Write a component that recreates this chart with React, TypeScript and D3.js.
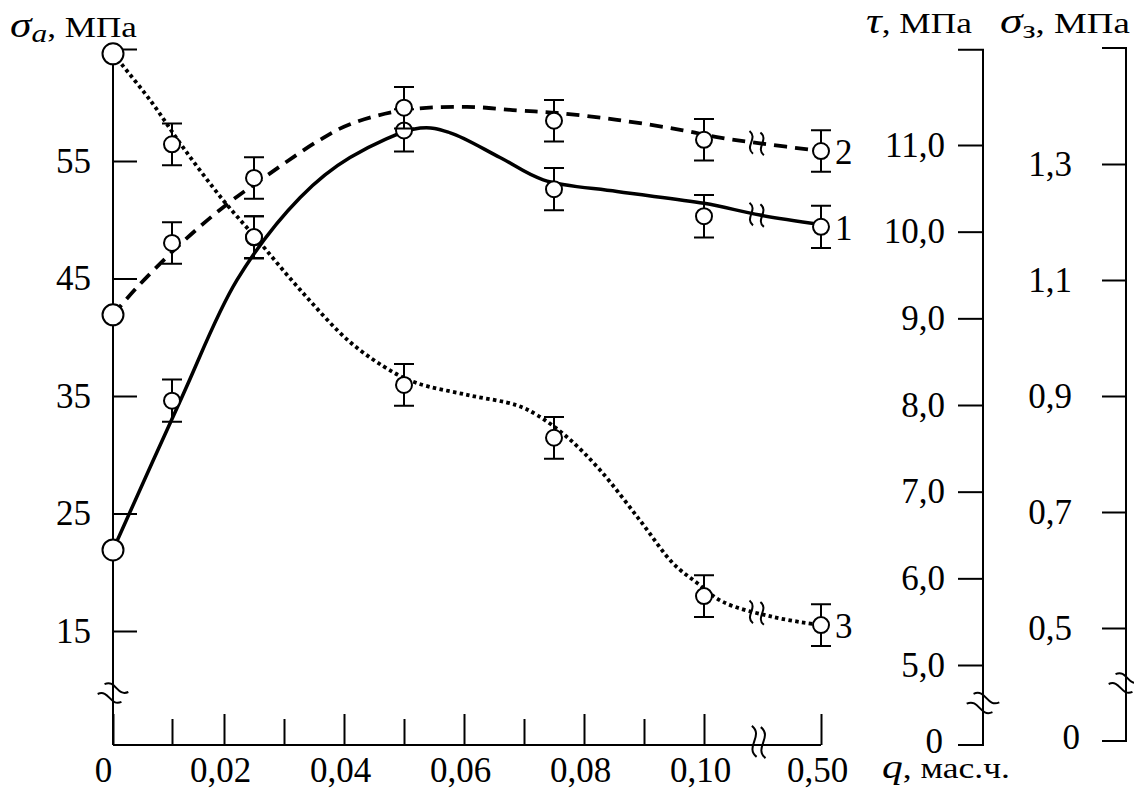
import React, { useEffect, useRef } from 'react';
import * as d3 from 'd3';

// q, mass parts — measured points
const qValues = [0, 0.01, 0.025, 0.05, 0.075, 0.10, 0.50];

// curve 1: sigma_a, MPa (left axis)
const sigmaA = [21.9, 34.6, 48.5, 57.6, 52.6, 50.3, 49.4];
const sigmaAErr = [0, 1.8, 1.8, 1.8, 1.8, 1.8, 1.8];

// curve 2: tau, MPa
const tau = [9.04, 9.87, 10.62, 11.43, 11.28, 11.06, 10.93];
const tauErr = [0, 0.24, 0.24, 0.24, 0.24, 0.24, 0.24];

// curve 3: sigma_z, MPa
const sigmaZ = [1.49, 1.334, 1.174, 0.919, 0.828, 0.555, 0.505];
const sigmaZErr = [0, 0.036, 0.036, 0.036, 0.036, 0.036, 0.036];

// fitted (smoothed) curves, [q, value]
const sigmaAFit: [number, number][] = [
  [0, 21.9], [0.0119, 34.9], [0.0222, 44.9], [0.0327, 51.9], [0.041, 55.3],
  [0.0527, 57.8], [0.0577, 57.4], [0.066, 55.3], [0.0732, 53.4], [0.0855, 52.4],
  [0.10, 51.4], [0.2915, 50.4], [0.5, 49.6]];
const tauFit: [number, number][] = [
  [0, 9.04], [0.0041, 9.36], [0.0115, 9.85], [0.0198, 10.28], [0.0272, 10.65],
  [0.036, 11.06], [0.041, 11.24], [0.0498, 11.40], [0.0605, 11.44], [0.0688, 11.40],
  [0.0755, 11.37], [0.0855, 11.29], [0.0965, 11.17], [0.1444, 11.09], [0.2915, 11.02],
  [0.5, 10.93]];
const sigmaZFit: [number, number][] = [
  [0, 1.49], [0.0063, 1.41], [0.0121, 1.329], [0.0198, 1.238], [0.0252, 1.174],
  [0.0327, 1.083], [0.041, 0.993], [0.0482, 0.941], [0.0522, 0.922], [0.0605, 0.902],
  [0.0688, 0.884], [0.0722, 0.867], [0.0772, 0.829], [0.0827, 0.772], [0.0893, 0.686],
  [0.0948, 0.612], [0.0988, 0.578], [0.165, 0.545], [0.336, 0.519], [0.5, 0.505]];

// ticks
const qMajorTicks = [0, 0.02, 0.04, 0.06, 0.08, 0.10, 0.50];
const qMinorTicks = [0.01, 0.03, 0.05, 0.07, 0.09];
const sigmaATicks = [15, 25, 35, 45, 55];
const tauTicks = [5, 6, 7, 8, 9, 10, 11];
const sigmaZTicks = [0.5, 0.7, 0.9, 1.1, 1.3];
const qBreak = 0.287;

const FONT = '"Liberation Serif", "Times New Roman", serif';

function valueAt(nodes: [number, number][], q: number) {
  for (let i = 0; i < nodes.length - 1; i++) {
    const [q0, v0] = nodes[i];
    const [q1, v1] = nodes[i + 1];
    if (q >= q0 && q <= q1) return v0 + (v1 - v0) * (q - q0) / (q1 - q0);
  }
  return nodes[nodes.length - 1][1];
}

function comma(f: (n: number) => string) {
  return (d: any) => (d === 0 ? '0' : f(d).replace('.', ','));
}

export default function App() {
  const ref = useRef<SVGSVGElement>(null);

  useEffect(() => {
    const svg = d3.select(ref.current);
    svg.selectAll('*').remove();

    const x = d3.scaleLinear().domain([0, 0.01, 0.02, 0.10, 0.50]).range([113, 172, 224, 704, 821]);
    const yA = d3.scaleLinear().domain([15, 55]).range([631, 161]);
    const yT = d3.scaleLinear().domain([5, 11]).range([665, 145]);
    const yZ = d3.scaleLinear().domain([0.5, 1.3]).range([628, 164]);

    const x0 = x(0), baseY = 745;
    const tauX = 983, sigZX = 1126, sigZBottom = 741;

    const styleAxis = (g: any) => {
      g.select('.domain').remove();
      g.attr('font-family', FONT).attr('font-size', 35);
      g.selectAll('line').attr('stroke', '#000').attr('stroke-width', 2);
      g.selectAll('text').attr('fill', '#000');
    };

    // x axis
    const gx = svg.append('g').attr('transform', `translate(0,${baseY})`)
      .call(d3.axisBottom(x).tickValues(qMajorTicks).tickSizeInner(-31).tickSizeOuter(0)
        .tickPadding(12).tickFormat(comma(d3.format('.2f'))));
    styleAxis(gx);
    gx.selectAll('text').attr('dx', (d: any) => (d === 0 ? -10 : -4));
    const gx2 = svg.append('g').attr('transform', `translate(0,${baseY})`)
      .call(d3.axisBottom(x).tickValues(qMinorTicks).tickSizeInner(-26).tickSizeOuter(0)
        .tickFormat(() => ''));
    styleAxis(gx2);
    svg.append('line').attr('x1', x0).attr('x2', x(0.5)).attr('y1', baseY).attr('y2', baseY)
      .attr('stroke', '#000').attr('stroke-width', 2);

    // left axis sigma_a
    const gA = svg.append('g').attr('transform', `translate(${x0},0)`)
      .call(d3.axisLeft(yA).tickValues(sigmaATicks).tickSizeInner(-24).tickSizeOuter(0)
        .tickPadding(22).tickFormat(d3.format('d')));
    styleAxis(gA);
    svg.append('path').attr('d', `M${x0 + 24},${yA(64.5)}H${x0}V${baseY}`)
      .attr('fill', 'none').attr('stroke', '#000').attr('stroke-width', 2);

    // tau axis
    const gT = svg.append('g').attr('transform', `translate(${tauX},0)`)
      .call(d3.axisLeft(yT).tickValues(tauTicks).tickSizeInner(25).tickSizeOuter(0)
        .tickPadding(13).tickFormat(comma(d3.format('.1f'))));
    styleAxis(gT);
    svg.append('path').attr('d', `M${tauX - 25},${yT(12.1)}H${tauX}V${baseY}H${tauX - 25}`)
      .attr('fill', 'none').attr('stroke', '#000').attr('stroke-width', 2);
    svg.append('text').attr('x', tauX - 40).attr('y', baseY + 8)
      .attr('text-anchor', 'end').attr('font-family', FONT).attr('font-size', 35).text('0');

    // sigma_z axis
    const gZ = svg.append('g').attr('transform', `translate(${sigZX},0)`)
      .call(d3.axisLeft(yZ).tickValues(sigmaZTicks).tickSizeInner(24).tickSizeOuter(0)
        .tickPadding(30).tickFormat(comma(d3.format('.1f'))));
    styleAxis(gZ);
    svg.append('path').attr('d', `M${sigZX - 24},${yZ(1.5)}H${sigZX}V${sigZBottom}H${sigZX - 24}`)
      .attr('fill', 'none').attr('stroke', '#000').attr('stroke-width', 2);
    svg.append('text').attr('x', sigZX - 46).attr('y', sigZBottom + 8)
      .attr('text-anchor', 'end').attr('font-family', FONT).attr('font-size', 35).text('0');

    // break marks
    const drawBreak = (cx: number, cy: number, angle: number, h: number, gap: number) => {
      const a = h / 2;
      const p = `M${-a * 0.3},${-a} C${a * 0.6},${-a * 0.45} ${-a * 0.6},${a * 0.45} ${a * 0.3},${a}`;
      const g = svg.append('g').attr('transform', `translate(${cx},${cy}) rotate(${angle})`);
      [-gap / 2, gap / 2].forEach(dx => {
        g.append('path').attr('d', p).attr('transform', `translate(${dx},0)`)
          .attr('fill', 'none').attr('stroke', '#000').attr('stroke-width', 2);
      });
    };
    drawBreak(x(qBreak), baseY - 3, 8, 30, 9);
    drawBreak(x0, 693, 125, 24, 12);
    drawBreak(tauX, 703, 125, 26, 12);
    drawBreak(sigZX - 2, 683, 125, 24, 12);

    // curves
    const series = [
      { fit: sigmaAFit, vals: sigmaA, err: sigmaAErr, y: yA, dash: null, label: '1' },
      { fit: tauFit, vals: tau, err: tauErr, y: yT, dash: '13 8', label: '2' },
      { fit: sigmaZFit, vals: sigmaZ, err: sigmaZErr, y: yZ, dash: '3.5 3.3', label: '3' },
    ];

    series.forEach(s => {
      const line = d3.line<[number, number]>()
        .x(d => x(d[0])).y(d => s.y(d[1]))
        .curve(d3.curveCatmullRom.alpha(0.5));
      svg.append('path').attr('d', line(s.fit))
        .attr('fill', 'none').attr('stroke', '#000').attr('stroke-width', s.dash ? 3.8 : 3.5)
        .attr('stroke-dasharray', s.dash);
      drawBreak(x(qBreak) - 2, s.y(valueAt(s.fit, qBreak)), 8, 22, 11);
    });

    series.forEach(s => {
      const g = svg.append('g');
      qValues.forEach((q, i) => {
        const cx = x(q), v = s.vals[i], e = s.err[i];
        if (e > 0) {
          const y1 = s.y(v - e), y2 = s.y(v + e);
          g.append('path').attr('d', `M${cx},${y1}V${y2}M${cx - 10},${y1}H${cx + 10}M${cx - 10},${y2}H${cx + 10}`)
            .attr('fill', 'none').attr('stroke', '#000').attr('stroke-width', 2);
        }
        g.append('circle').attr('cx', cx).attr('cy', s.y(v)).attr('r', q === 0 ? 10.5 : 8)
          .attr('fill', '#fff').attr('stroke', '#000').attr('stroke-width', 2);
      });
      const last = s.vals.length - 1;
      svg.append('text').attr('x', x(qValues[last]) + 14).attr('y', s.y(s.vals[last]) + 13)
        .attr('font-family', FONT).attr('font-size', 35).text(s.label);
    });

    // titles, stretched to the width they take in the figure
    // parts: [text, italic, baseline offset, font size]
    const title = (parts: [string, boolean, number, number][], tx: number, ty: number, w: number) => {
      const t = svg.append('text').attr('font-family', FONT).attr('font-size', 29);
      let shift = 0;
      parts.forEach(([str, italic, dy, fs]) => {
        t.append('tspan').attr('font-style', italic ? 'italic' : 'normal')
          .attr('font-size', fs).attr('dy', dy - shift).text(str);
        shift = dy;
      });
      const bb = (t.node() as SVGTextElement).getBBox();
      const k = w / bb.width;
      t.attr('transform', `translate(${tx - bb.x * k},${ty}) scale(${k},1)`);
    };
    title([['σ', true, 0, 36], ['a', true, 5, 26], [', МПа', false, 0, 29]], 10, 37, 127);
    title([['τ', true, 0, 36], [', МПа', false, 0, 29]], 866, 33, 106);
    title([['σ', true, 0, 36], ['з', false, 5, 26], [', МПа', false, 0, 29]], 1000, 33, 130);
    title([['q', true, 0, 34], [', мас.ч.', false, 0, 29]], 882, 778, 128);
  }, []);

  return (
    <svg ref={ref} width={1134} height={789}
      style={{ position: 'absolute', left: 0, top: 0, background: '#fff' }} />
  );
}
